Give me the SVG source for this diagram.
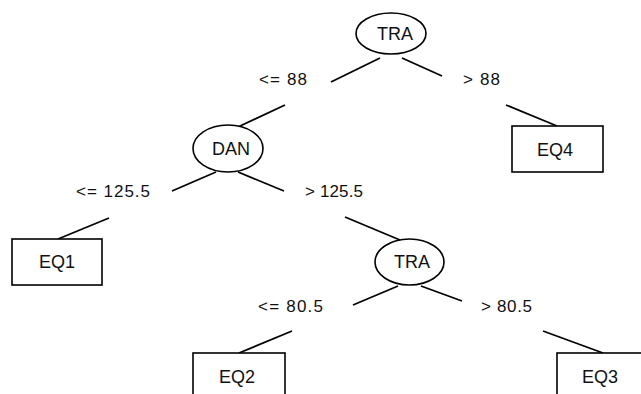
<svg xmlns="http://www.w3.org/2000/svg" width="641" height="394" viewBox="0 0 641 394">
<style>
.n{fill:#fff;stroke:#000;stroke-width:1.6}
.e{stroke:#000;stroke-width:1.8;fill:none}
text{font-family:"Liberation Sans",Arial,sans-serif;font-size:17px;fill:#111}
.c{text-anchor:middle;font-size:18px}
</style>
<rect width="641" height="394" fill="#fff"/>
<g id="connectors">
<line class="e" x1="380" y1="58" x2="331" y2="82"/>
<line class="e" x1="285" y1="105" x2="238" y2="127"/>
<line class="e" x1="402" y1="58" x2="442" y2="76"/>
<line class="e" x1="506" y1="105" x2="557" y2="126"/>
<line class="e" x1="216" y1="172" x2="172" y2="191"/>
<line class="e" x1="109" y1="218" x2="58" y2="239"/>
<line class="e" x1="238" y1="172" x2="284" y2="191"/>
<line class="e" x1="345" y1="217" x2="400" y2="240"/>
<line class="e" x1="398" y1="286" x2="353" y2="305"/>
<line class="e" x1="292" y1="331" x2="239" y2="353"/>
<line class="e" x1="421" y1="286" x2="462" y2="301"/>
<line class="e" x1="543" y1="331" x2="603" y2="353"/>
<text x="259" y="85" textLength="48">&lt;= 88</text>
<text x="463" y="85" textLength="37">&gt; 88</text>
<text x="76" y="197" textLength="74">&lt;= 125.5</text>
<text x="305" y="197" textLength="58">&gt; 125.5</text>
<text x="258" y="312" textLength="65">&lt;= 80.5</text>
<text x="481" y="312" textLength="51">&gt; 80.5</text>
</g>
<g id="n_tra1">
<ellipse class="n" cx="391" cy="33.5" rx="35" ry="20.5"/>
<text class="c" x="395" y="40">TRA</text>
</g>
<g id="n_dan">
<ellipse class="n" cx="228" cy="148.5" rx="35" ry="23.5"/>
<text class="c" x="231" y="155">DAN</text>
</g>
<g id="n_tra2">
<ellipse class="n" cx="409.5" cy="262" rx="34.5" ry="23"/>
<text class="c" x="412" y="268">TRA</text>
</g>
<g id="n_eq4">
<rect class="n" x="512" y="126" width="91" height="46"/>
<text class="c" x="555" y="156">EQ4</text>
</g>
<g id="n_eq1">
<rect class="n" x="12" y="239" width="90" height="46"/>
<text class="c" x="57" y="268">EQ1</text>
</g>
<g id="n_eq2">
<rect class="n" x="193" y="353" width="92" height="46"/>
<text class="c" x="237" y="383">EQ2</text>
</g>
<g id="n_eq3">
<rect class="n" x="557" y="353" width="92" height="46"/>
<text class="c" x="600" y="383">EQ3</text>
</g>
</svg>
